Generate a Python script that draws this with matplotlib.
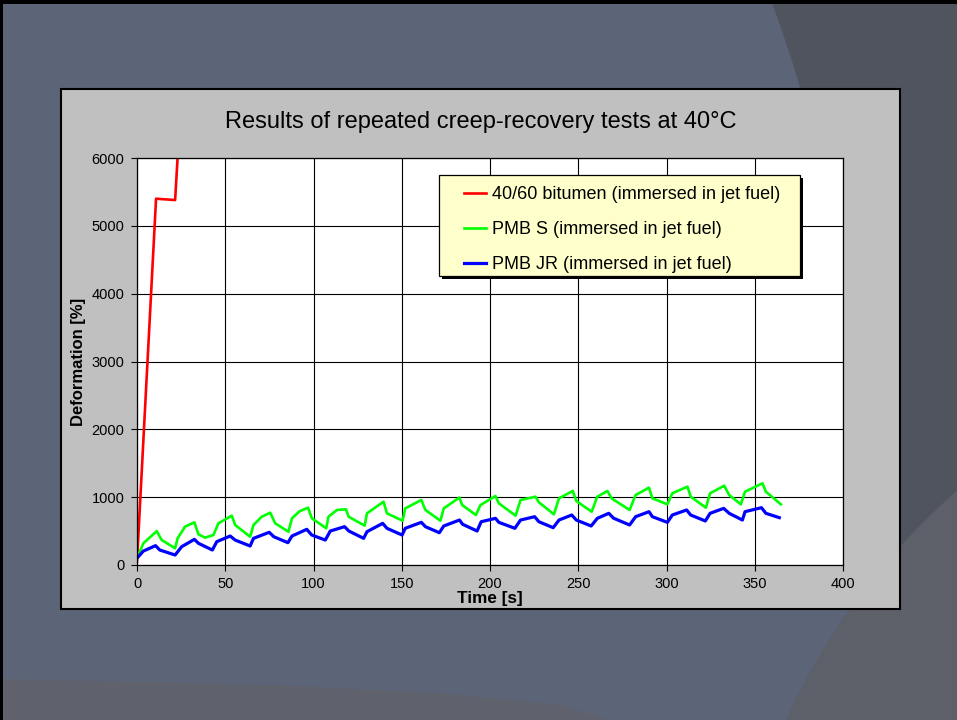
import matplotlib
matplotlib.use('Agg')
import matplotlib.pyplot as plt
from matplotlib.patches import Rectangle, Circle, Polygon

plt.rcParams['font.family'] = ['Liberation Sans', 'DejaVu Sans']

# Data
bitumen_t = [0, 10.8, 21.6, 25.0]
bitumen_def = [50, 5400, 5380, 6900]

pmb_s_t = [0, 3.6, 11.2, 13.9, 21.6, 23.0, 27.2, 32.5, 34.8, 38.6, 43.3, 46.1, 53.7,
           55.6, 64.1, 66.0, 70.7, 75.5, 78.3, 85.8, 87.8, 92.0, 96.9, 99.1, 107.2,
           108.5, 113.3, 118.4, 119.9, 129.0, 130.3, 139.7, 141.6, 150.5, 152.0, 161.1,
           163.4, 171.9, 173.8, 182.7, 184.2, 192.0, 194.6, 203.1, 205.0, 214.5, 217.3,
           225.8, 227.7, 236.2, 239.1, 246.9, 248.9, 257.6, 260.8, 266.5, 269.0, 279.1,
           282.5, 290.1, 292.0, 300.5, 303.3, 311.9, 313.7, 322.3, 324.7, 332.7, 335.5,
           342.1, 344.5, 354.4, 356.3, 364.8]
pmb_s_def = [100, 320, 500, 370, 246, 393, 565, 629, 452, 403, 442, 614, 727,
             590, 417, 590, 712, 771, 614, 491, 688, 790, 845, 688, 541,
             712, 811, 821, 712, 580, 762, 933, 762, 653, 835, 958,
             811, 653, 835, 995, 884, 737, 884, 1017, 909, 727, 958,
             1007, 924, 747, 983, 1091, 943, 786, 1007, 1091, 980, 811,
             1032, 1140, 983, 894, 1057, 1155, 1007, 845, 1057, 1169, 1032,
             894, 1081, 1204, 1081, 894]

pmb_jr_t = [0, 3.6, 10.5, 12.9, 21.6, 25.3, 32.5, 34.8, 42.7, 45.2, 52.8, 55.6, 64.1,
            66.0, 74.9, 77.5, 85.5, 87.8, 96.2, 99.0, 106.7, 109.5, 117.6, 120.0, 128.4,
            130.3, 139.2, 141.6, 150.2, 152.0, 161.1, 163.4, 171.3, 173.8, 182.7, 184.5,
            192.7, 195.0, 203.1, 205.0, 214.1, 217.3, 225.3, 227.7, 235.8, 239.1, 246.3,
            248.9, 257.3, 260.8, 267.3, 270.0, 279.1, 282.5, 290.1, 292.0, 300.5, 303.3,
            311.4, 313.7, 322.0, 324.7, 332.4, 335.5, 343.0, 344.5, 353.8, 356.3, 363.9]
pmb_jr_def = [100, 206, 285, 221, 147, 270, 378, 320, 221, 344, 427, 368, 280,
              393, 482, 417, 329, 427, 526, 442, 368, 501, 565, 501, 393,
              491, 614, 541, 442, 541, 629, 565, 476, 575, 663, 600,
              501, 638, 688, 629, 541, 663, 712, 638, 550, 663, 737,
              663, 575, 688, 762, 690, 590, 712, 786, 712, 629, 737,
              811, 737, 649, 762, 835, 762, 663, 786, 845, 762, 698]

labels = ['40/60 bitumen (immersed in jet fuel)',
          'PMB S (immersed in jet fuel)',
          'PMB JR (immersed in jet fuel)']

W, H = 957, 720
fig = plt.figure(figsize=(W / 100, H / 100), dpi=100)

# slide background, drawn in pixel units
bg = fig.add_axes([0, 0, 1, 1])
bg.set_xlim(0, W)
bg.set_ylim(H, 0)
bg.axis('off')
bg.add_patch(Rectangle((0, 0), W, H, facecolor='#50545f', edgecolor='none'))
bg.add_patch(Circle((-566, 493), 1425, facecolor='#5c6478', edgecolor='none'))
bg.add_patch(Polygon([(0, 679), (150, 682), (300, 686), (450, 694), (560, 705), (610, 720), (0, 720)],
                     closed=True, facecolor='#5f626c', edgecolor='none'))
bg.add_patch(Circle((1400, 1000), 675, facecolor='#5d6069', edgecolor='none'))
bg.add_patch(Rectangle((0, 0), W, 4, facecolor='black', edgecolor='none'))
bg.add_patch(Rectangle((0, 0), 3, H, facecolor='black', edgecolor='none'))
# chart area
bg.add_patch(Rectangle((61, 89), 839, 520, facecolor='#c0c0c0', edgecolor='black', lw=1.5))

fig.text(481 / W, 1 - 122 / H, 'Results of repeated creep-recovery tests at 40°C',
         ha='center', va='center', fontsize=17)

# plot area
ax = fig.add_axes([137 / W, 1 - 565 / H, 706 / W, 407 / H])
ax.set_facecolor('white')
ax.plot(bitumen_t, bitumen_def, color='#ff0000', lw=1.9, label=labels[0],
        solid_joinstyle='round')
ax.plot(pmb_s_t, pmb_s_def, color='#00ff00', lw=1.9, label=labels[1],
        solid_joinstyle='round')
ax.plot(pmb_jr_t, pmb_jr_def, color='#0000ff', lw=2.3, label=labels[2],
        solid_joinstyle='round')

ax.set_xlim(0, 400)
ax.set_ylim(0, 6000)
ax.set_xticks(range(0, 401, 50))
ax.set_yticks(range(0, 6001, 1000))
ax.grid(True, color='black', lw=0.8)
ax.set_axisbelow(True)
for s in ax.spines.values():
    s.set_color('black')
    s.set_linewidth(0.9)
ax.tick_params(direction='out', length=4, width=0.8, labelsize=10.5, pad=5)

ax.set_xlabel('Time [s]', fontsize=12.3, fontweight='bold')
ax.xaxis.label.set_va('center')
ax.xaxis.set_label_coords(0.5, -34 / 407)
ax.set_ylabel('Deformation [%]', fontsize=12, fontweight='bold')
ax.yaxis.label.set_va('center')
ax.yaxis.set_label_coords(-59 / 706, 0.5)

# legend with Excel style frame and shadow
tf = fig.transFigure
ax.add_patch(Rectangle((442 / W, 1 - 279 / H), 361 / W, 101 / H, transform=tf,
                       facecolor='black', edgecolor='none', clip_on=False, zorder=4))
ax.add_patch(Rectangle((439 / W, 1 - 276 / H), 361 / W, 101 / H, transform=tf,
                       facecolor='#ffffcc', edgecolor='black', lw=0.9, clip_on=False, zorder=4.5))
leg = ax.legend(loc='upper left', bbox_to_anchor=(455 / W, 1 - 177 / H),
                bbox_transform=tf, frameon=False, fontsize=13, borderpad=0,
                handlelength=1.22, handletextpad=0.32, labelspacing=1.0)
leg.set_zorder(5)

fig.savefig('out.png', dpi=100)
